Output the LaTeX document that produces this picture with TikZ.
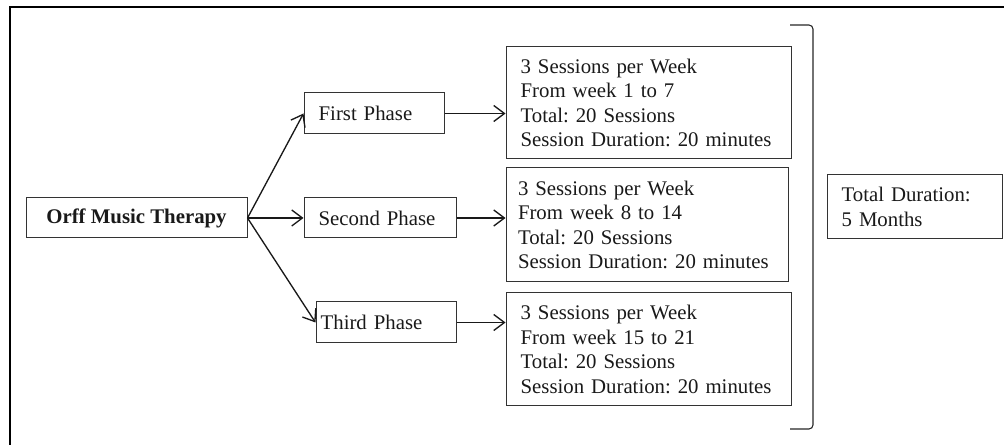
\documentclass[tikz,border=0pt]{standalone}
\usepackage{fontspec}
\setmainfont{Liberation Serif}
\usetikzlibrary{arrows.meta}
\frenchspacing
\hyphenpenalty=10000
\exhyphenpenalty=10000
\begin{document}
\begin{tikzpicture}[x=0.75pt,y=-0.75pt,
  box/.style={draw=black!80, line width=0.75pt, rectangle, inner ysep=0pt, align=left,
    font=\fontsize{15.6}{18.4}\selectfont, text=black!90},
  conn/.style={line width=1pt, black!90, -{Straight Barb[length=8pt,width=12pt,line width=1pt]}}]
\useasboundingbox (0,0) rectangle (1004,445);
% outer frame
\draw[line width=1.6pt] (10,445) -- (10,7) -- (1004,7);
% nodes
\node[box, align=center, minimum width=165.75pt, minimum height=30pt, font=\fontsize{15.6}{18.4}\selectfont\bfseries] (orff) at (136.5,218) {Orff Music Therapy};
\node[box, minimum width=105pt, minimum height=30.75pt, inner xsep=11pt, text width=83pt] (first) at (374,113.5) {First Phase};
\node[box, minimum width=114pt, minimum height=30pt, inner xsep=11pt, text width=92pt] (second) at (380,218) {Second Phase};
\node[box, minimum width=105pt, minimum height=30.75pt, inner xsep=3.5pt, text width=98pt] (third) at (386,322.5) {Third Phase};
\node[box, minimum width=213.75pt, minimum height=84pt, inner xsep=11pt, text width=191.75pt] (d1) at (648.5,103)
  {3 Sessions per Week\\From week 1 to 7\\Total: 20 Sessions\\Session Duration: 20 minutes};
\node[box, minimum width=211.5pt, minimum height=85.5pt, inner xsep=9pt, text width=193.5pt] (d2) at (647,225)
  {3 Sessions per Week\\From week 8 to 14\\Total: 20 Sessions\\Session Duration: 20 minutes};
\node[box, minimum width=213.75pt, minimum height=84.75pt, inner xsep=11pt, text width=191.75pt] (d3) at (648.5,349.5)
  {3 Sessions per Week\\From week 15 to 21\\Total: 20 Sessions\\Session Duration: 20 minutes};
\node[box, minimum width=131.25pt, minimum height=48pt, inner xsep=11pt, text width=109.25pt] (total) at (914.5,207)
  {Total Duration:\\5 Months};
% connectors
\draw[conn] (orff.east) -- (first.west);
\draw[conn] (orff.east) -- (second.west);
\draw[conn] (orff.east) -- (third.west);
\draw[conn] (first.east) -- (d1.west |- first.east);
\draw[conn] (second.east) -- (d2.west |- second.east);
\draw[conn] (third.east) -- (d3.west |- third.east);
% bracket
\draw[line width=0.8pt, black!85, rounded corners=3pt] (790,25) -- (813,25) -- (813,429) -- (790,429);
\end{tikzpicture}
\end{document}
